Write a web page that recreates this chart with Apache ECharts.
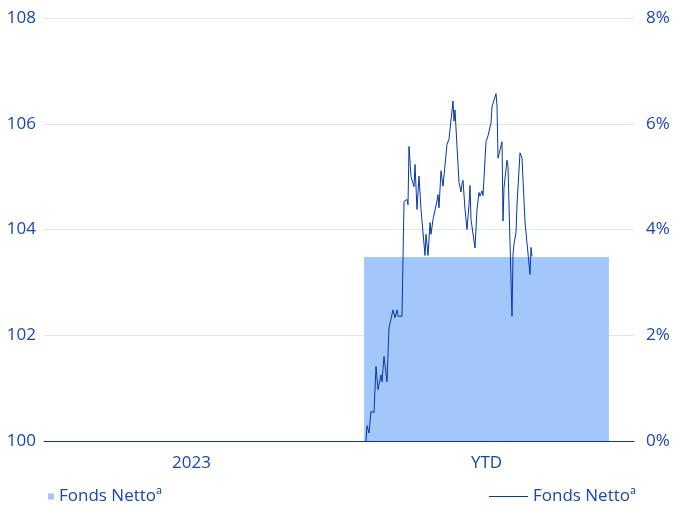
<!DOCTYPE html>
<html>
<head>
<meta charset="utf-8">
<script src="https://cdn.jsdelivr.net/npm/echarts@6/dist/echarts.min.js"></script>
<style>
  html, body { margin: 0; padding: 0; background: #fff; }
  #chart { width: 681px; height: 512px; }
</style>
</head>
<body>
<div id="chart"></div>
<script>
// categories on the bar axis
const categories = ["2023", "YTD"];
// annual performance bars (right axis, %)
const barValues = ["-", 3.48];
// YTD index line (left axis), [trading day, value]
const lineDays = [0, 1, 2, 3, 5, 8, 10, 12, 14, 15, 16, 18, 19, 21, 23, 25, 27, 29, 31, 32, 36, 38, 41, 42, 43, 45, 47, 48, 49, 51, 53, 55, 57, 59, 60, 62, 64, 65, 67, 69, 71, 72, 73, 75, 77, 79, 81, 83, 85, 87, 88, 89, 91, 93, 95, 96, 97, 99, 100, 101, 103, 104, 105, 107, 109, 111, 113, 114, 116, 117, 120, 122, 124, 125, 126, 128, 130, 131, 132, 134, 136, 137, 138, 140, 141, 142, 144, 145, 146, 147, 148, 150, 151, 154, 156, 157, 159, 161, 164, 165, 166];
const lineValues = [100.00, 100.29, 100.28, 100.15, 100.56, 100.54, 101.41, 100.97, 100.97, 101.25, 101.12, 101.60, 101.59, 101.12, 102.14, 102.14, 102.48, 102.33, 102.48, 102.36, 102.36, 104.53, 104.57, 104.47, 105.57, 105.00, 105.00, 104.81, 105.23, 104.38, 105.01, 104.38, 104.38, 103.51, 103.91, 103.51, 104.13, 103.91, 104.19, 104.19, 104.54, 104.66, 104.41, 105.11, 104.82, 104.82, 105.61, 105.71, 105.71, 106.43, 106.05, 106.26, 106.26, 104.89, 104.71, 104.87, 104.93, 104.38, 104.35, 104.00, 104.47, 104.83, 104.19, 104.16, 103.65, 104.38, 104.70, 104.63, 104.73, 104.64, 105.66, 105.77, 105.80, 106.02, 106.32, 106.29, 106.57, 106.34, 105.35, 105.36, 105.66, 104.16, 104.79, 104.79, 105.31, 105.20, 103.75, 103.73, 102.36, 103.53, 103.73, 103.94, 104.47, 105.45, 105.35, 104.95, 104.14, 104.14, 103.15, 103.66, 103.49];
const legendLabel = "Fonds Nettoª";

const blue = "#1746b8";
const lineBlue = "#0636a8";
const chart = echarts.init(document.getElementById("chart"));

const options = {
  animation: false,
  textStyle: { fontFamily: "Open Sans" },
  grid: { left: 44, right: 47, top: 18, bottom: 71 },
  legend: [
    {
      data: ["bar"],
      left: 43,
      bottom: 2,
      icon: "rect",
      itemWidth: 6,
      itemHeight: 6,
      formatter: () => legendLabel,
      textStyle: { color: blue, fontSize: 17, fontFamily: "Open Sans" },
    },
    {
      data: ["line"],
      right: 40,
      bottom: 2,
      icon: "rect",
      itemWidth: 39,
      itemHeight: 1,
      formatter: () => legendLabel,
      textStyle: { color: blue, fontSize: 17, fontFamily: "Open Sans" },
    },
  ],
  xAxis: [
    {
      type: "category",
      data: categories,
      axisLine: { lineStyle: { color: lineBlue, width: 1 } },
      axisTick: { show: false },
      axisLabel: { color: blue, fontSize: 17, margin: 14 },
    },
    {
      // hidden day axis for the YTD line, day 0 sits at the start of the YTD bar
      type: "value",
      min: -322,
      max: 268,
      show: false,
    },
  ],
  yAxis: [
    {
      type: "value",
      min: 100,
      max: 108,
      interval: 2,
      axisLine: { show: false },
      axisTick: { show: false },
      axisLabel: { color: blue, fontSize: 17, margin: 8 },
      splitLine: { lineStyle: { color: "#d9e7fb", width: 1 } },
    },
    {
      type: "value",
      min: 0,
      max: 8,
      interval: 2,
      axisLine: { show: false },
      axisTick: { show: false },
      axisLabel: { color: blue, fontSize: 17, margin: 12, formatter: "{value}%" },
      splitLine: { show: false },
    },
  ],
  series: [
    {
      name: "bar",
      type: "bar",
      xAxisIndex: 0,
      yAxisIndex: 1,
      barWidth: "83%",
      itemStyle: { color: "#a2c8fb" },
      data: barValues,
    },
    {
      name: "line",
      type: "line",
      xAxisIndex: 1,
      yAxisIndex: 0,
      symbol: "none",
      lineStyle: { color: lineBlue, width: 1 },
      itemStyle: { color: lineBlue },
      data: lineDays.map((d, i) => [d, lineValues[i]]),
    },
  ],
};
chart.setOption(options);
</script>
</body>
</html>
